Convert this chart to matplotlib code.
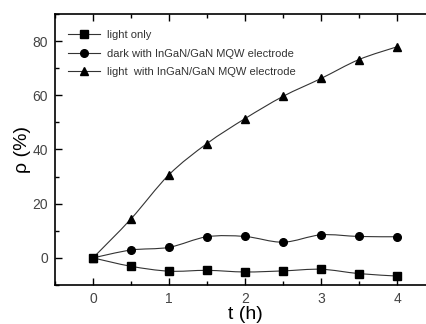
import numpy as np
import matplotlib
matplotlib.use("Agg")
import matplotlib.pyplot as plt
from matplotlib.path import Path
from matplotlib.patches import PathPatch
from matplotlib.lines import Line2D
from matplotlib.ticker import MultipleLocator

plt.rcParams['font.family'] = ['Liberation Sans', 'DejaVu Sans']

t_hours = [0, 0.5, 1, 1.5, 2, 2.5, 3, 3.5, 4]
light_only = [0, -3.1, -4.9, -4.6, -5.2, -4.8, -4.2, -5.8, -6.7]
dark_mqw = [0, 2.9, 3.9, 7.8, 7.9, 5.8, 8.5, 7.9, 7.8]
light_mqw = [0, 14.4, 30.7, 42.2, 51.4, 59.6, 66.2, 73.2, 77.9]

labels = ["light only", "dark with InGaN/GaN MQW electrode",
          "light  with InGaN/GaN MQW electrode"]
markers = ["s", "o", "^"]


def smooth_path(x, y):
    """Catmull-Rom style Bezier path through the data points."""
    x = np.asarray(x, float)
    y = np.asarray(y, float)
    verts = [(x[0], y[0])]
    codes = [Path.MOVETO]
    n = len(x)
    for i in range(n - 1):
        p0 = np.array([x[max(i - 1, 0)], y[max(i - 1, 0)]])
        p1 = np.array([x[i], y[i]])
        p2 = np.array([x[i + 1], y[i + 1]])
        p3 = np.array([x[min(i + 2, n - 1)], y[min(i + 2, n - 1)]])
        c1 = p1 + (p2 - p0) / 6.0
        c2 = p2 - (p3 - p1) / 6.0
        verts += [tuple(c1), tuple(c2), tuple(p2)]
        codes += [Path.CURVE4] * 3
    return Path(verts, codes)


fig = plt.figure(figsize=(4.27, 3.24), dpi=100)
ax = fig.add_axes([0.1288, 0.1204, 0.89, 0.8364])

handles = []
for series, mk, lab in zip([light_only, dark_mqw, light_mqw], markers, labels):
    patch = PathPatch(smooth_path(t_hours, series), facecolor='none',
                      edgecolor='#333333', lw=0.8, transform=ax.transData)
    ax.add_patch(patch)
    ax.plot(t_hours, series, linestyle='none', marker=mk, color='black',
            markersize=5.5, zorder=3)
    handles.append(Line2D([], [], color='#333333', lw=0.8, marker=mk,
                          markersize=5.5, markerfacecolor='black',
                          markeredgecolor='black', label=lab))

ax.set_xlim(-0.5, 4.5)
ax.set_ylim(-10, 90)
ax.xaxis.set_major_locator(MultipleLocator(1))
ax.xaxis.set_minor_locator(MultipleLocator(0.5))
ax.yaxis.set_minor_locator(MultipleLocator(10))
ax.set_yticks([0, 20, 40, 60, 80])
ax.tick_params(which='both', direction='in', top=True, right=True,
               labelsize=10, labelcolor='#444444', width=1.0)
ax.tick_params(which='major', length=5, pad=5)
ax.tick_params(which='minor', length=3)
for s in ax.spines.values():
    s.set_linewidth(1.2)

ax.set_xlabel("t (h)", fontsize=14, labelpad=0)
ax.set_ylabel("ρ (%)", fontsize=14, labelpad=1)

leg = ax.legend(handles=handles, loc='upper left', frameon=False, fontsize=8,
                handlelength=2.9, handletextpad=0.6, labelspacing=0.75,
                borderaxespad=0, borderpad=0, bbox_to_anchor=(0.034, 0.94))
for txt in leg.get_texts():
    txt.set_color('#333333')

fig.savefig("out.png", dpi=100)
